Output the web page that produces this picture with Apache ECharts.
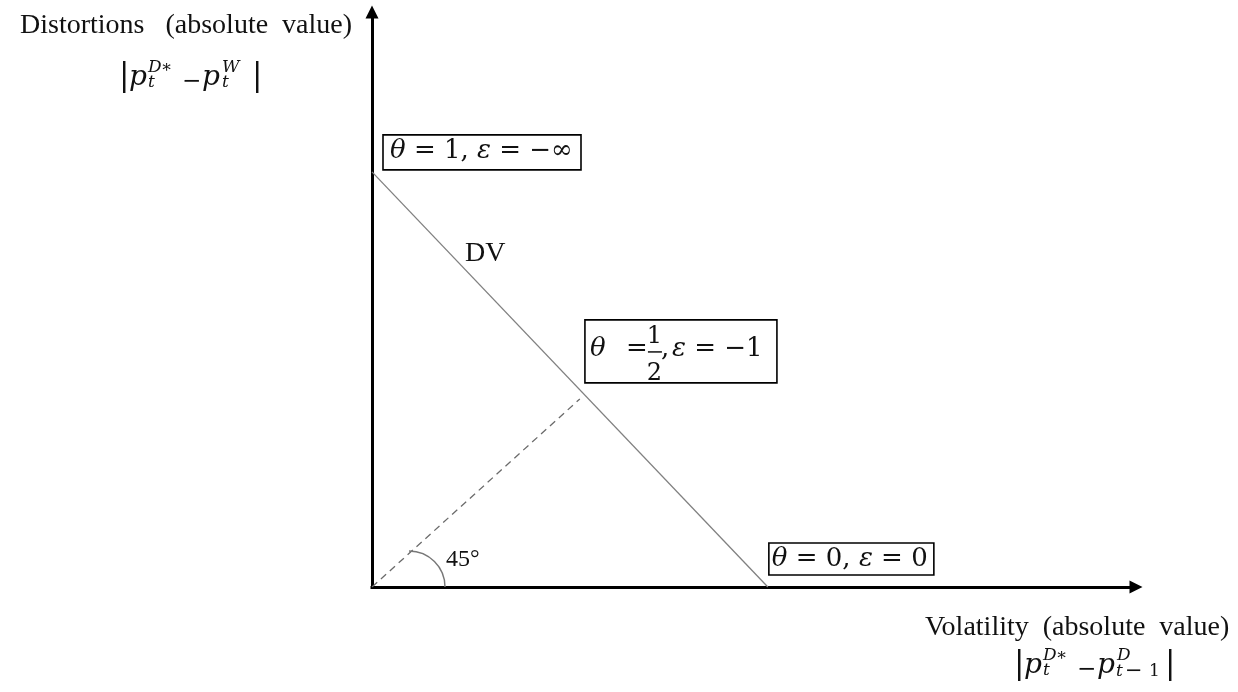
<!DOCTYPE html>
<html><head><meta charset="utf-8">
<script src="https://cdn.jsdelivr.net/npm/echarts@6/dist/echarts.min.js"></script>
<style>html,body{margin:0;padding:0;background:#fff}#c{width:1238px;height:692px}</style>
</head><body><div id="c"></div>
<script>
// ---------- data ----------
const dvX = [0, 1];
const dvY = [1, 0];
const diagX = [0, 0.525];
const diagY = [0, 0.453];
const boxX = [0, 0.5, 1];
const boxY = [1, 0.5, 0];
const thetaValues = ['1', '1/2', '0'];
const epsValues = ['−∞', '−1', '0'];
const curveName = 'DV';
const curveLabelX = [0.25];
const curveLabelY = [0.75];
const angleValue = ['45°'];
const yTitle = 'Distortions   (absolute  value)';
const xTitle = 'Volatility  (absolute  value)';
const yFormulaSup = ['D', 'W'];
const yFormulaSub = ['t', 't'];
const xFormulaSup = ['D', 'D'];
const xFormulaSub = ['t', 't−1'];

// ---------- styles ----------
const SERIF = '"Liberation Serif", "Times New Roman", serif';
const MATH = '"DejaVu Serif", serif';
const INK = '#111';
const K = 0.34;
function txt(x, base, text, size, family, italic, extra) {
  return {type: 'text', x: x, y: base - K * size, silent: true,
    style: Object.assign({text: text, font: (italic ? 'italic ' : '') + size + 'px ' + family,
      fill: INK, align: 'left', verticalAlign: 'middle'}, extra || {})};
}
function formula(ox, oy, sup, sub, subSplit) {
  // ox,oy: top-left reference of the formula block
  const B = oy + 25;
  const els = [
    txt(ox - 5, B, '|', 31, MATH, false),
    txt(ox + 5, B, 'p', 28, MATH, true),
    txt(ox + 24, oy + 11, sup[0], 17, MATH, true),
    txt(ox + 37, oy + 11, '∗', 17, MATH, false),
    txt(ox + 24, oy + 26, sub[0], 17, MATH, true),
    txt(ox + 58, oy + 27.5, '−', 23, MATH, false),
    txt(ox + 78, B, 'p', 28, MATH, true),
    txt(ox + 98, oy + 11, sup[1], 17, MATH, true)
  ];
  if (subSplit) {
    const parts = sub[1].split('−');
    els.push(txt(ox + 97, oy + 27, parts[0], 17, MATH, true));
    els.push(txt(ox + 106, oy + 28.5, '−', 21, MATH, false));
    els.push(txt(ox + 130, oy + 27, parts[1], 17, MATH, false));
    els.push(txt(ox + 146, B, '|', 31, MATH, false));
  } else {
    els.push(txt(ox + 98, oy + 26, sub[1], 17, MATH, true));
    els.push(txt(ox + 128, B, '|', 31, MATH, false));
  }
  return els;
}

// box layout (offsets from anchor point, px)
const boxLayout = [
  {rx: 11, ry: -37, w: 198, h: 35, tx: 18, tb: -12},
  {rx: 15, ry: -59.5, w: 192, h: 63, tx: 20, tb: -21.5},
  {rx: 1, ry: -44, w: 165, h: 32, tx: 4, tb: -19}
];
const MS = 26;
const richI = {i: {font: 'italic ' + MS + 'px ' + MATH, fill: INK}};

function renderBox(params, api) {
  const i = params.dataIndex;
  const p = api.coord([api.value(0), api.value(1)]);
  const L = boxLayout[i];
  const children = [{
    type: 'rect', shape: {x: p[0] + L.rx, y: p[1] + L.ry, width: L.w, height: L.h},
    style: {fill: 'none', stroke: '#000', lineWidth: 1.6}
  }];
  const tv = thetaValues[i];
  if (tv.indexOf('/') < 0) {
    children.push(txt(p[0] + L.tx, p[1] + L.tb, '{i|θ} = ' + tv + ', {i|ε} = ' + epsValues[i], MS, MATH, false, {rich: richI}));
  } else {
    const fr = tv.split('/');
    const x0 = p[0] + L.tx, b = p[1] + L.tb;
    children.push(txt(x0, b, 'θ', MS, MATH, true));
    children.push(txt(x0 + 36, b, '=', MS, MATH, false));
    children.push(txt(x0 + 64.5, b - 13, fr[0], 24, MATH, false, {align: 'center'}));
    children.push({type: 'line', shape: {x1: x0 + 58, y1: b - 6, x2: x0 + 72, y2: b - 6}, style: {stroke: INK, lineWidth: 1.5}});
    children.push(txt(x0 + 64.5, b + 24, fr[1], 24, MATH, false, {align: 'center'}));
    children.push(txt(x0 + 71, b, ',', MS, MATH, false));
    children.push(txt(x0 + 82, b, '{i|ε} = ' + epsValues[i], MS, MATH, false, {rich: richI}));
  }
  return {type: 'group', children: children};
}

function renderCurveLabel(params, api) {
  const p = api.coord([api.value(0), api.value(1)]);
  return txt(p[0] - 6, p[1] - 12.75, curveName, 28, SERIF, false);
}

function renderAngle(params, api) {
  const p = api.coord([api.value(0), api.value(1)]);
  return {type: 'group', children: [
    {type: 'arc', shape: {cx: p[0] + 37, cy: p[1], r: 36, startAngle: -Math.PI / 2, endAngle: 0, clockwise: true},
      style: {fill: 'none', stroke: '#777', lineWidth: 1.4}},
    txt(p[0] + 74, p[1] - 19, angleValue[params.dataIndex], 24, SERIF, false)
  ]};
}

const graphics = [
  txt(20, 35, yTitle, 28, SERIF, false),
  txt(925, 637, xTitle, 28, SERIF, false)
].concat(formula(124, 62, yFormulaSup, yFormulaSub, false))
 .concat(formula(1019, 650, xFormulaSup, xFormulaSub, true));

const axisCommon = {
  type: 'value', min: 0,
  axisLine: {show: true, onZero: true, symbol: ['none', 'triangle'], symbolSize: [13, 13],
    lineStyle: {color: '#000', width: 3, cap: 'square'}},
  axisTick: {show: false}, axisLabel: {show: false}, splitLine: {show: false}
};

const chart = echarts.init(document.getElementById('c'), null, {renderer: 'canvas'});
chart.setOption({
  animation: false,
  backgroundColor: '#fff',
  grid: {left: 372, top: 12, right: 102, bottom: 105, containLabel: false},
  xAxis: Object.assign({}, axisCommon, {max: 1.93}),
  yAxis: Object.assign({}, axisCommon, {max: 1.385}),
  graphic: {elements: graphics},
  series: [
    {type: 'line', data: dvX.map((x, i) => [x, dvY[i]]), symbol: 'none', silent: true,
      lineStyle: {color: '#808080', width: 1.3}, z: 2},
    {type: 'line', data: diagX.map((x, i) => [x, diagY[i]]), symbol: 'none', silent: true,
      lineStyle: {color: '#6b6b6b', width: 1.3, type: [7, 5]}, z: 2},
    {type: 'custom', renderItem: renderBox, data: boxX.map((x, i) => [x, boxY[i]]), silent: true, z: 3},
    {type: 'custom', renderItem: renderCurveLabel, data: curveLabelX.map((x, i) => [x, curveLabelY[i]]), silent: true, z: 3},
    {type: 'custom', renderItem: renderAngle, data: [[diagX[0], diagY[0]]], silent: true, z: 3}
  ]
});
</script></body></html>
